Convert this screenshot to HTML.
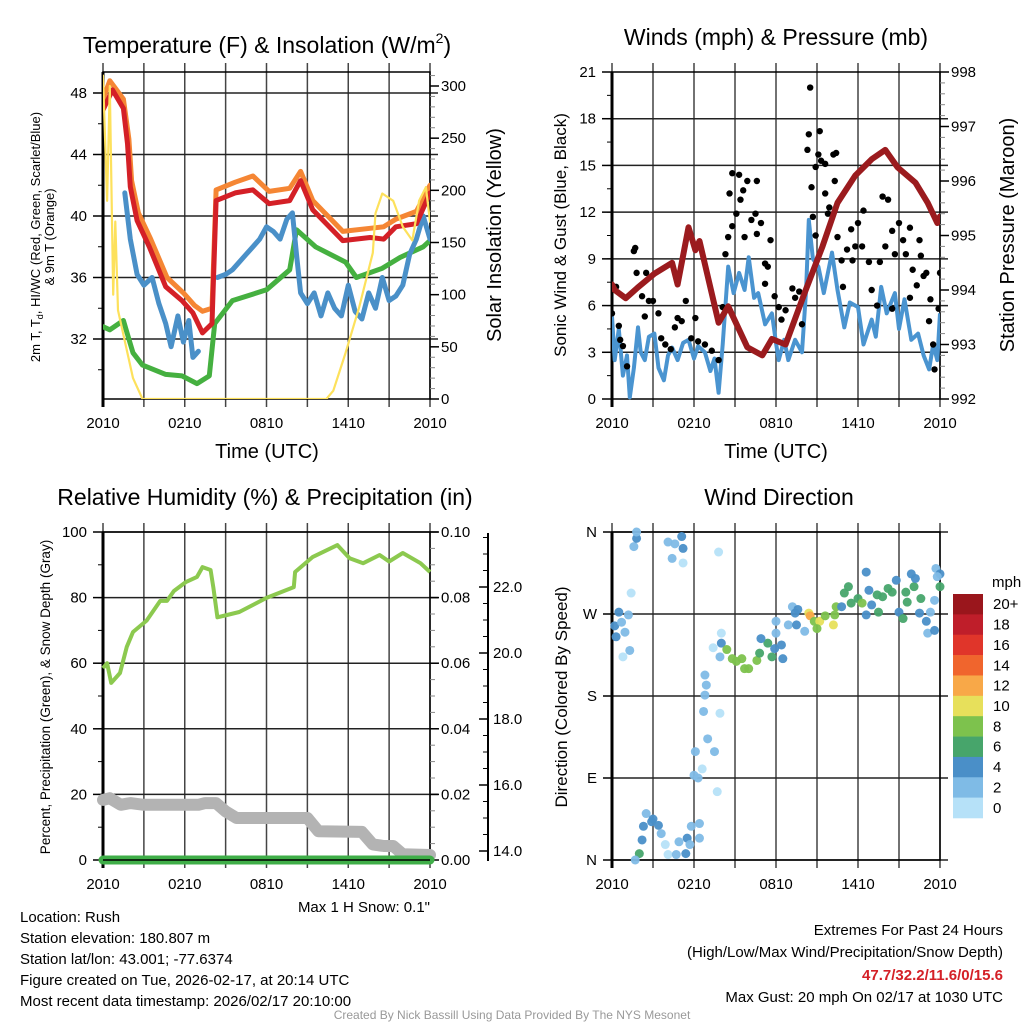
<!DOCTYPE html>
<html><head><meta charset="utf-8"><style>
html,body{margin:0;padding:0;background:#fff;}
svg{display:block;font-family:"Liberation Sans",sans-serif;}
</style></head><body>
<svg id="svg" width="1024" height="1024" viewBox="0 0 1024 1024" xmlns="http://www.w3.org/2000/svg"></svg>
<script>
// ---------- DATA ----------
const timeTicks = ["2010","0210","0810","1410","2010"];
const tempRed = [[0,46.9],[0.7,48.2],[1.5,47],[1.8,44.7],[2,41.9],[2.5,39.7],[3.4,38],[4.6,35.4],[5.8,34.5],[6.6,33.7],[7.3,32.4],[8,33],[8.3,41],[9.7,41.5],[11,41.7],[12.2,40.8],[13.7,41],[14.5,42.3],[15.4,40.4],[17.6,38.4],[19.6,38.6],[20.6,38.5],[21.5,39.3],[23,39.5],[24,41.5]];
const tempOrange = [[0,47.6],[0.5,48.8],[1.5,47.6],[1.9,45],[2.1,42.3],[2.6,40.2],[3.5,38.5],[4.7,36],[5.9,35],[6.7,34.2],[7.3,33.8],[8,34],[8.3,41.7],[9.7,42.2],[11,42.6],[12.2,41.6],[13.7,41.8],[14.5,42.9],[15.4,41],[17.6,39],[19.6,39.2],[20.6,39.3],[21.5,39.8],[23,40.3],[24,42]];
const tempGreen = [[0,32.8],[0.5,32.6],[1.5,33.2],[1.8,32.3],[2.2,31.1],[2.9,30.3],[4.6,29.7],[5.8,29.6],[6.9,29.1],[7.8,29.6],[8.2,33],[9.5,34.5],[12,35.2],[13.7,36.5],[14.2,39.1],[15.6,38],[17.8,37],[18.6,36],[20.5,36.6],[21.8,37.3],[23.5,38],[24,38.4]];
const tempBlue = [[1.6,41.5],[2,38.5],[2.5,36.2],[3,35.5],[3.6,36],[4.1,34.3],[4.6,33],[5,31.5],[5.5,33.5],[5.9,31.8],[6.3,33.2],[6.6,30.8],[7,31.2],null,[8.4,36],[9,36.2],[9.5,36.5],[10,37],[10.5,37.5],[11,38],[11.5,38.5],[12,39.3],[12.5,39],[13,38.5],[13.5,39.8],[13.9,40.2],[14.2,37.5],[14.5,35],[15,34.3],[15.5,35],[16,33.5],[16.5,35],[17,34],[17.5,33.5],[18,35.5],[18.5,33.8],[19,33.3],[19.5,35],[20,34],[20.5,36],[21,34.5],[21.5,34.8],[22,35.5],[22.5,37.5],[23,38.5],[23.5,40],[24,38.5]];
const solar = [[0,310],[0.3,190],[0.5,300],[0.75,100],[0.9,170],[1.1,85],[2.2,20],[2.9,0],[16.4,0],[16.9,8],[17.8,44],[18.8,88],[19.8,140],[20,178],[20.5,197],[21.3,190],[22,165],[22.7,152],[23.2,190],[23.7,203],[24,170]];
const pressure = [[0,994.1],[0.2,994.0],[1.0,993.85],[1.9,994.05],[3.1,994.3],[4.4,994.5],[4.8,994.1],[5.6,995.15],[6.1,994.73],[6.4,994.9],[7.8,993.4],[8.5,993.7],[9.9,992.95],[11.0,992.8],[11.7,993.1],[12.7,993.0],[14.1,993.95],[15.4,994.8],[16.5,995.6],[17.8,996.1],[19.0,996.4],[20.0,996.57],[20.9,996.25],[22.2,995.97],[23.1,995.6],[23.8,995.23],[24,995.35]];
const wind = [[0,5.3],[0.2,2.5],[0.5,4.5],[0.8,1.5],[1.1,2.8],[1.3,0.1],[1.6,2.0],[1.9,4.6],[2.1,3.0],[2.4,2.5],[2.7,4.0],[3.1,4.2],[3.4,2.0],[3.8,1.2],[4.1,2.8],[4.4,3.3],[4.8,2.5],[5.2,3.6],[5.6,3.8],[6.0,2.6],[6.3,3.4],[6.8,3.0],[7.2,1.8],[7.5,2.6],[7.8,0.4],[8.1,3.5],[8.5,8.5],[8.9,6.8],[9.3,8.1],[9.7,7.0],[10.0,9.1],[10.4,6.5],[10.7,6.8],[11.2,4.8],[11.7,5.5],[12.0,3.6],[12.2,2.5],[12.6,3.8],[12.9,2.5],[13.4,3.8],[13.9,3.0],[14.2,7.0],[14.4,11.5],[14.7,9.0],[15.1,8.5],[15.5,6.8],[16.1,9.4],[16.5,7.0],[17.0,4.6],[17.4,6.2],[18.0,5.9],[18.4,3.5],[19.0,5.1],[19.3,4.0],[19.7,7.2],[20.1,5.5],[20.7,6.8],[21.0,4.5],[21.4,6.4],[21.9,3.8],[22.4,4.2],[22.8,2.8],[23.2,1.9],[23.5,3.5],[23.8,2.5],[24,5.5]];
const gust = [[0,5.5],[0.3,7.2],[0.5,4.7],[0.6,3.8],[0.8,3.4],[1.1,2.1],[1.6,9.5],[1.7,9.7],[1.8,8.1],[2.2,6.6],[2.5,8.1],[2.7,6.3],[3,6.3],[2.4,5.3],[3.4,5.5],[3.6,3.9],[3.9,3.5],[4.3,3.2],[4.6,4.6],[4.8,5.2],[5.1,5],[5.4,6.3],[5.8,3.9],[6.1,5.2],[6.3,3.7],[6.8,3.5],[7.3,3.1],[7.8,2.5],[8.1,5.9],[8.3,9.3],[8.5,10.4],[8.8,11.1],[8.6,13.2],[8.8,14.5],[9.1,11.9],[9.3,14.4],[9.4,12.8],[9.6,13.4],[9.7,10.4],[9.9,14],[10.2,11.5],[10.5,11.9],[10.6,14],[10.6,10.6],[10.9,11.3],[11.6,10.2],[11.2,8.7],[11.4,8.5],[11.2,7.4],[11.9,6.6],[12.2,5.9],[12.4,5.1],[12.7,5.7],[13.2,7.1],[13.4,6.5],[13.7,6.9],[13.9,4.8],[14.3,16],[14.4,17],[14.5,20],[15.1,15.7],[15.2,17.2],[15.3,15.3],[15.6,15.1],[14.6,13.6],[14.9,14.9],[15.6,13.2],[16.2,15.7],[16.4,15.8],[16.3,14],[15.9,12.3],[15.8,11.9],[14.7,11.7],[14.9,10.5],[16.5,10.4],[16.8,8.9],[16.9,7.2],[17.2,9.6],[17.5,10.9],[17.6,8.9],[17.8,9.8],[18,11.3],[18.3,9.8],[18.4,12.1],[18.8,8.8],[19,7],[19.4,6],[19.6,8.8],[19.8,13],[20.2,12.8],[20,9.8],[20.5,10.8],[20.7,9.3],[21,11.3],[21.3,10.2],[21.5,9.3],[21.8,6.5],[21.8,11],[22,8.3],[22.3,7.3],[22.5,10.2],[22.6,9.2],[22.8,7.9],[23,8.1],[23.2,5],[23.5,3.5],[23.6,1.9],[23.9,5.8],[24,8.1],[23.3,6.4],[20.5,5.8]];
const rh = [[0,58.5],[0.3,60],[0.6,54],[1.25,57],[1.75,65],[2.2,69.5],[3.2,73],[4.2,79],[4.7,79],[5.2,82],[6.1,84.8],[6.9,86.3],[7.3,89.3],[7.9,88.4],[8.1,83],[8.4,74],[9.1,74.7],[10,75.6],[12,79.9],[14,83.2],[14.1,87.8],[15.4,92.4],[17.2,96],[18.1,92],[19.1,90.5],[20.3,93],[21,91],[22,93.6],[23.3,90.5],[24,87.8]];
const precip = [[0,0],[24,0]];
const snow = [[0,15.55],[0.5,15.6],[1.3,15.4],[2,15.45],[3,15.4],[7,15.4],[7.5,15.45],[8.3,15.45],[9,15.2],[9.8,15.0],[15,15.0],[15.8,14.6],[19,14.58],[19.8,14.2],[20.6,14.15],[21.3,14.15],[22,13.9],[24,13.88]];
const dirPts = [[0.5,272,4.5],[0.2,257,4.5],[0.7,261,3],[0.95,250,3],[0.3,245,4.5],[1.2,269,3],[1.3,230,3],[0.8,223,1],[1.4,293,1],[1.6,344,3],[1.8,353,4.5],[1.8,360,3],[4.1,349,3],[4.6,347,3],[5.1,355,4.5],[5.2,342,4.5],[4.4,331,3],[5.2,326,1],[7.8,338,1],[2.0,7,6.5],[1.7,0,3],[2.2,22,4.5],[2.5,51,3],[2.9,42,4.5],[2.3,37,4.5],[3.0,45,4.5],[3.4,38,4.5],[3.6,29,3],[3.9,17,1],[4.1,6,1],[4.7,6,3],[4.9,20,3],[5.5,24,4.5],[5.4,7,4.5],[5.8,37,3],[6.4,24,3],[5.7,17,3],[6.4,40,3],[6.3,90,3],[6.0,93,3],[6.1,119,3],[6.6,100,1],[7.7,75,1],[7.5,119,3],[7.0,133,3],[6.8,181,3],[6.9,192,3],[6.8,203,3],[6.7,163,3],[7.9,161,1],[7.4,233,1],[7.9,223,3],[8.0,249,1],[8.0,238,4.5],[8.4,231,8.5],[8.8,221,8.5],[9.1,218,8.5],[9.5,221,8.5],[9.7,210,8.5],[10.0,210,8.5],[10.6,219,8.5],[10.8,227,6.5],[11.4,238,6.5],[11.7,223,6.5],[11.9,232,4.5],[12.4,236,4.5],[12.5,221,4.5],[10.9,243,4.5],[12.0,249,3],[12.0,262,3],[12.9,258,3],[13.2,278,3],[13.4,271,4.5],[13.6,275,4.5],[13.5,258,4.5],[14.1,251,3],[14.4,271,10],[14.5,268,12],[14.8,262,8.5],[15.2,262,10],[15.0,254,8.5],[15.6,268,8.5],[16.2,258,10],[16.3,269,8.5],[16.4,278,8.5],[16.8,278,4.5],[17.0,293,6.5],[17.3,300,6.5],[17.5,282,6.5],[18.0,287,6.5],[18.3,282,8.5],[18.6,316,4.5],[18.8,296,4.5],[19.0,280,4.5],[18.6,269,4.5],[19.4,291,6.5],[19.5,272,6.5],[19.8,289,6.5],[20.2,298,6.5],[20.5,294,6.5],[20.8,307,4.5],[21.0,272,4.5],[21.3,265,6.5],[21.5,294,6.5],[21.6,283,6.5],[21.9,314,4.5],[22.1,300,6.5],[22.2,309,4.5],[22.6,287,6.5],[22.5,271,4.5],[23.0,262,4.5],[23.1,249,3],[23.6,252,4.5],[23.3,272,3],[23.6,285,3],[23.7,320,3],[24.0,314,4.5],[24.0,300,6.5],[23.8,311,3]];
const cbLabels = ["20+","18","16","14","12","10","8","6","4","2","0"];
const cbColors = ["#9a161c","#bf1e2a","#e0352a","#f0652d","#f8a848","#e7e05b","#7dc24d","#47a56b","#4a8fc8","#7fbbe6","#b6e1f8"];

// ---------- HELPERS ----------
const NS="http://www.w3.org/2000/svg";
const svg=document.getElementById('svg');
function el(tag,attrs,parent){const e=document.createElementNS(NS,tag);for(const k in attrs)e.setAttribute(k,attrs[k]);(parent||svg).appendChild(e);return e;}
function txt(s,x,y,size,anchor,parent,extra){const e=el('text',Object.assign({x:x,y:y,'font-size':size,'text-anchor':anchor||'middle',fill:'#000'},extra||{}),parent);e.textContent=s;return e;}
function lin(a,b,c,d){return v=>c+(v-a)*(d-c)/(b-a);}
function pathFrom(pts,fx,fy){let d='',pen=false;for(const p of pts){if(!p){pen=false;continue;}d+=(pen?'L':'M')+fx(p[0]).toFixed(1)+','+fy(p[1]).toFixed(1);pen=true;}return d;}
function speedColor(s){let i=Math.min(10,Math.floor(s/2));return cbColors[10-i];}

function frame(g,X0,X1,Y0,Y1,hGridVals,fy){
  const fx=lin(0,24,X0,X1);
  for(let h=0;h<=24;h+=3){const x=fx(h);el('line',{x1:x,y1:Y0-9,x2:x,y2:Y1+8,stroke:'#444','stroke-width':1.5},g);}
  for(const v of hGridVals){const y=fy(v);el('line',{x1:X0,y1:y,x2:X1+8,y2:y,stroke:'#222','stroke-width':1.5},g);}
  el('rect',{x:X0,y:Y0,width:X1-X0,height:Y1-Y0,fill:'none',stroke:'#000','stroke-width':1.5},g);
  el('line',{x1:X0,y1:Y0,x2:X0,y2:Y1+8,stroke:'#000','stroke-width':3},g);
  timeTicks.forEach((s,i)=>{const t=txt(s,fx(i*6),Y1+29,15,'middle',g);});
  return fx;
}
function leftTicks(g,X0,vals,fy,fmt,minors){
  for(const v of minors){el('line',{x1:X0-5,y1:fy(v),x2:X0,y2:fy(v),stroke:'#000','stroke-width':1},g);}
  for(const v of vals){el('line',{x1:X0-10,y1:fy(v),x2:X0,y2:fy(v),stroke:'#000','stroke-width':1.5},g);const t=txt(fmt(v),X0-16,fy(v)+5,15,'end',g);}
}
function rightTicks(g,X1,vals,fy,fmt,minors){
  for(const v of minors){el('line',{x1:X1,y1:fy(v),x2:X1+5,y2:fy(v),stroke:'#888','stroke-width':1},g);}
  for(const v of vals){el('line',{x1:X1,y1:fy(v),x2:X1+9,y2:fy(v),stroke:'#000','stroke-width':1.5},g);const t=txt(fmt(v),X1+11,fy(v)+5,15,'start',g);}
}
function range(a,b,s){const r=[];for(let v=a;v<=b+1e-9;v+=s)r.push(+v.toFixed(4));return r;}

// ---------- PANEL 1: Temperature ----------
(function(){
  const g=el('g',{});
  
  
  const X0=103,X1=430,Y0=72,Y1=399;
  const fy=lin(32,48,339,93), fyS=lin(0,300,399,86);
  const fx=frame(g,X0,X1,Y0,Y1,[32,36,40,44,48],fy);
  leftTicks(g,X0,[32,36,40,44,48],fy,v=>String(v),range(30,48,2));
  rightTicks(g,X1,[0,50,100,150,200,250,300],fyS,v=>String(v),range(0,310,10));
  const clip=el('clipPath',{id:'c1'},g);el('rect',{x:X0,y:Y0,width:X1-X0,height:Y1-Y0},clip);
  const pg=el('g',{'clip-path':'url(#c1)'},g);
  const mk=(d,c,w,n)=>{const p=el('path',{d:d,fill:'none',stroke:c,'stroke-width':w,'stroke-linejoin':'round','stroke-linecap':'round'},pg);};
  mk(pathFrom(tempGreen,fx,fy),'#45b040',5,'dewpoint-line');
  mk(pathFrom(tempBlue,fx,fy),'#4a90c8',5,'windchill-line');
  mk(pathFrom(tempOrange,fx,fy),'#f58634',5,'9m-temp-line');
  mk(pathFrom(tempRed,fx,fy),'#d42027',5,'2m-temp-line');
  mk(pathFrom(solar,fx,fyS),'#fde15c',2.2,'solar-line');
  const t=el('text',{x:267,y:53,'font-size':23,'text-anchor':'middle'},g);
  
  t.innerHTML='Temperature (F) &amp; Insolation (W/m<tspan font-size="14" dy="-10">2</tspan><tspan dy="10">)</tspan>';
  const xl=txt('Time (UTC)',267,458,20,'middle',g);
  const r=txt('Solar Insolation (Yellow)',0,0,20,'middle',g,{transform:'translate(501,235) rotate(-90)'});
  const l1=el('text',{x:0,y:0,'font-size':13,'text-anchor':'middle',transform:'translate(40,237) rotate(-90)'},g);
  
  l1.innerHTML='2m T, T<tspan font-size="9" dy="3">d</tspan><tspan dy="-3">, HI/WC (Red, Green, Scarlet/Blue)</tspan>';
  const l2=txt('& 9m T (Orange)',0,0,13,'middle',g,{transform:'translate(54,237) rotate(-90)'});
})();

// ---------- PANEL 2: Winds ----------
(function(){
  const g=el('g',{});
  
  
  const X0=612,X1=940,Y0=72,Y1=399;
  const fy=lin(0,21,399,72), fyP=lin(992,998,399,72);
  const fx=frame(g,X0,X1,Y0,Y1,[3,6,9,12,15,18],fy);
  leftTicks(g,X0,[0,3,6,9,12,15,18,21],fy,v=>String(v),range(0,21,1.5));
  rightTicks(g,X1,[992,993,994,995,996,997,998],fyP,v=>String(v),range(992,998,0.2));
  const clip=el('clipPath',{id:'c2'},g);el('rect',{x:X0,y:Y0-2,width:X1-X0,height:Y1-Y0+4},clip);
  const pg=el('g',{'clip-path':'url(#c2)'},g);
  const w=el('path',{d:pathFrom(wind,fx,fy),fill:'none',stroke:'#4a94d0','stroke-width':4,'stroke-linejoin':'round'},pg);
  
  for(const p of gust){const c=el('circle',{cx:fx(p[0]),cy:fy(p[1]),r:3.2,fill:'#000'},pg);
    }
  const pr=el('path',{d:pathFrom(pressure,fx,fyP),fill:'none',stroke:'#9b1b1e','stroke-width':6,'stroke-linejoin':'round','stroke-linecap':'round'},pg);
  
  const t=txt('Winds (mph) & Pressure (mb)',776,45,23,'middle',g);
  const xl=txt('Time (UTC)',776,458,20,'middle',g);
  const l=txt('Sonic Wind & Gust (Blue, Black)',0,0,17,'middle',g,{transform:'translate(566,235) rotate(-90)'});
  const r=txt('Station Pressure (Maroon)',0,0,20,'middle',g,{transform:'translate(1014,235) rotate(-90)'});
})();

// ---------- PANEL 3: RH ----------
(function(){
  const g=el('g',{});
  
  
  const X0=103,X1=430,Y0=532,Y1=860;
  const fy=lin(0,100,Y1,Y0), fyPr=lin(0,0.1,Y1,Y0), fyS=lin(14,22,851,587);
  const fx=frame(g,X0,X1,Y0,Y1,[20,40,60,80,100],fy);
  leftTicks(g,X0,[0,20,40,60,80,100],fy,v=>String(v),range(0,100,10));
  rightTicks(g,X1,[0,0.02,0.04,0.06,0.08,0.1],fyPr,v=>v.toFixed(2),range(0,0.1,0.005));
  el('line',{x1:488,y1:533,x2:488,y2:861,stroke:'#000','stroke-width':2},g);
  for(const v of range(14,23.5,0.5)){el('line',{x1:488-(v%2===0?9:5),y1:fyS(v),x2:488,y2:fyS(v),stroke:'#000','stroke-width':v%2===0?1.5:1},g);}
  for(const v of [14,16,18,20,22]){const t=txt(v.toFixed(1),493,fyS(v)+5,15,'start',g);}
  const clip=el('clipPath',{id:'c3'},g);el('rect',{x:X0-8,y:Y0,width:X1-X0+16,height:Y1-Y0+8},clip);
  const pg=el('g',{'clip-path':'url(#c3)'},g);
  const s=el('path',{d:pathFrom(snow,fx,fyS),fill:'none',stroke:'#b3b3b3','stroke-width':12,'stroke-linejoin':'round','stroke-linecap':'round'},pg);
  
  const p=el('path',{d:pathFrom(precip,fx,fyPr),fill:'none',stroke:'#3fae48','stroke-width':9,'stroke-linecap':'round'},pg);
  
  el('line',{x1:X0,y1:Y1,x2:X1,y2:Y1,stroke:'#000','stroke-width':1.5},pg);
  const h=el('path',{d:pathFrom(rh,fx,fy),fill:'none',stroke:'#8cc94f','stroke-width':4,'stroke-linejoin':'round'},pg);
  
  const t=txt('Relative Humidity (%) & Precipitation (in)',265,505,23,'middle',g);
  const l=txt('Percent, Precipitation (Green), & Snow Depth (Gray)',0,0,13.5,'middle',g,{transform:'translate(50,697) rotate(-90)'});
  const m=txt('Max 1 H Snow: 0.1"',430,912,15,'end',g);
})();

// ---------- PANEL 4: Wind Direction ----------
(function(){
  const g=el('g',{});
  
  
  const X0=612,X1=940,Y0=532,Y1=860;
  const fy=lin(0,360,Y1,Y0);
  const fx=frame(g,X0,X1,Y0,Y1,[0,90,180,270,360],fy);
  const dl=['N','E','S','W','N'];
  [0,90,180,270,360].forEach((v,i)=>{el('line',{x1:X0-9,y1:fy(v),x2:X0,y2:fy(v),stroke:'#000','stroke-width':1.5},g);const t=txt(dl[i],597,fy(v)+5,15,'end',g);});
  const clip=el('clipPath',{id:'c4'},g);el('rect',{x:X0-6,y:Y0-6,width:X1-X0+12,height:Y1-Y0+12},clip);
  const pg=el('g',{'clip-path':'url(#c4)'},g);
  for(const p of dirPts){const c=el('circle',{cx:fx(p[0]),cy:fy(p[1]),r:4.5,fill:speedColor(p[2]),'fill-opacity':0.95},pg);
    }
  const t=txt('Wind Direction',779,505,23,'middle',g);
  const l=txt('Direction (Colored By Speed)',0,0,17,'middle',g,{transform:'translate(567,697) rotate(-90)'});
  const cb=el('g',{},g);
  const u=txt('mph',992,587,15,'start',cb);
  const bh=(818-594)/cbColors.length;
  cbColors.forEach((c,i)=>{const r=el('rect',{x:953,y:594+i*bh,width:30,height:bh+0.3,fill:c},cb);
    const t=txt(cbLabels[i],993,594+i*bh+bh/2+5,15,'start',cb);});
})();

// ---------- FOOTER ----------
(function(){
  const g=el('g',{});
  const left=['Location: Rush','Station elevation: 180.807 m','Station lat/lon: 43.001; -77.6374','Figure created on Tue, 2026-02-17, at 20:14 UTC','Most recent data timestamp: 2026/02/17 20:10:00'];
  left.forEach((s,i)=>{const t=txt(s,20,922+i*21,15,'start',g);});
  const t1=txt('Extremes For Past 24 Hours',1003,935,15,'end',g);
  const t2=txt('(High/Low/Max Wind/Precipitation/Snow Depth)',1003,957,15,'end',g);
  const t3=txt('47.7/32.2/11.6/0/15.6',1003,980,15,'end',g,{fill:'#d42027','font-weight':'bold'});
  const t4=txt('Max Gust: 20 mph On 02/17 at 1030 UTC',1003,1002,15,'end',g);
  const c=txt('Created By Nick Bassill Using Data Provided By The NYS Mesonet',512,1019,12,'middle',g,{fill:'#999'});
})();
</script>
</body></html>
